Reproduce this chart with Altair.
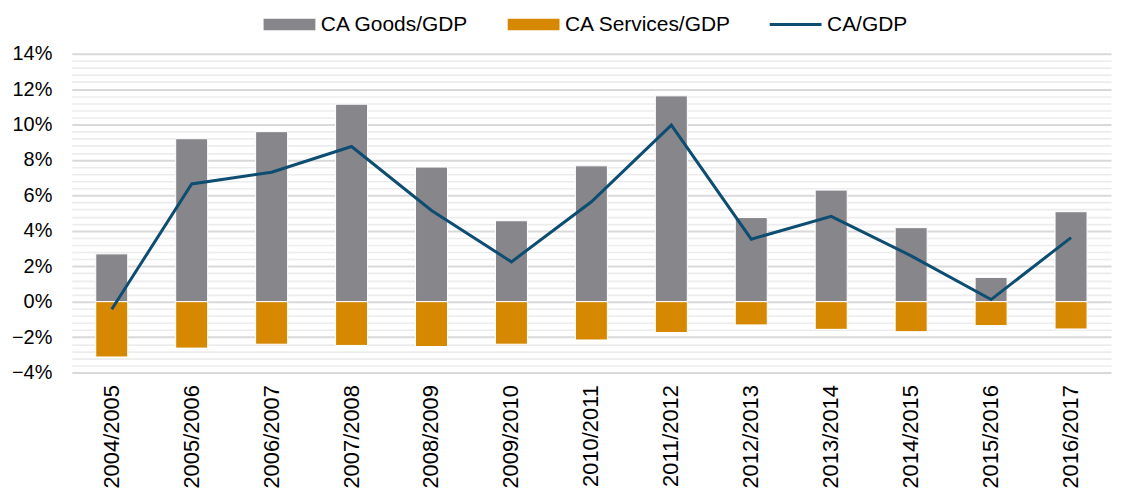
import altair as alt
import pandas as pd

categories = ["2004/2005", "2005/2006", "2006/2007", "2007/2008", "2008/2009",
              "2009/2010", "2010/2011", "2011/2012", "2012/2013", "2013/2014",
              "2014/2015", "2015/2016", "2016/2017"]
goods = [2.7, 9.2, 9.6, 11.15, 7.6, 4.57, 7.67, 11.62, 4.75, 6.3, 4.18, 1.37, 5.08]
services = [-3.12, -2.62, -2.4, -2.47, -2.53, -2.4, -2.16, -1.74, -1.31, -1.56, -1.69, -1.35, -1.54]
ca = [-0.43, 6.65, 7.31, 8.76, 5.15, 2.25, 5.64, 9.97, 3.53, 4.82, 2.59, 0.12, 3.62]

series_names = ["CA Goods/GDP", "CA Services/GDP", "CA/GDP"]
series_colors = ["#87868a", "#d58800", "#0d4d71"]
y_ticks = [round(-4 + 0.4 * i, 1) for i in range(46)]

bars = pd.DataFrame({
    "period": categories * 2,
    "series": [series_names[0]] * len(categories) + [series_names[1]] * len(categories),
    "value": goods + services,
})
line = pd.DataFrame({"period": categories, "series": series_names[2], "value": ca})

x_enc = alt.X("period:N", sort=categories, title=None,
              scale=alt.Scale(paddingInner=0.6, paddingOuter=0.3),
              axis=alt.Axis(labelAngle=270, labelFontSize=22, labelPadding=12,
                            labelColor="#000000", labelFont="Liberation Sans",
                            ticks=False, domain=False, grid=False))

y_scale = alt.Scale(domain=[-4, 14], nice=False, zero=False)
major_test = "abs(datum.value - round(datum.value / 2) * 2) < 0.01"

bar_layer = alt.Chart(bars).mark_bar(stroke="#ffffff", strokeWidth=1).encode(
    x=x_enc,
    y=alt.Y("value:Q", scale=y_scale, stack=None, title=None,
            axis=alt.Axis(values=y_ticks, tickCount=60, labelOverlap=False, ticks=False, domain=False,
                          labelFontSize=20, labelPadding=20, labelColor="#000000",
                          labelFont="Liberation Sans",
                          labelExpr=f"({major_test}) ? format(round(datum.value), 'd') + '%' : ''",
                          gridColor={"condition": {"test": major_test, "value": "#d9d9d9"},
                                     "value": "#ececec"},
                          gridWidth={"condition": {"test": major_test, "value": 2},
                                     "value": 1.6})),
    color=alt.Color("series:N",
                    scale=alt.Scale(domain=series_names, range=series_colors),
                    legend=alt.Legend(
                        title=None, orient="none", direction="horizontal",
                        legendX=187, legendY=-40,
                        labelFontSize=21, labelFont="Liberation Sans", labelColor="#000000",
                        labelLimit=400,
                        symbolSize=100, labelOffset=42, columnPadding=33,
                        symbolStrokeWidth=0,
                        symbolType={"expr": "datum.value === 'CA/GDP' ? 'M-1,-0.3H9.4V0.3H-1Z' : 'M-1,-1.15H9.4V1.15H-1Z'"},
                    )),
)

line_layer = alt.Chart(line).mark_line(color=series_colors[2], strokeWidth=3).encode(
    x=alt.X("period:N", sort=categories),
    y=alt.Y("value:Q", scale=y_scale),
)

chart = alt.layer(bar_layer, line_layer).properties(
    width=1043, height=320,
    padding={"left": 3, "top": 5, "right": 5, "bottom": 0},
).configure_view(stroke=None)

chart.save("out.html", embed_options={"renderer": "svg", "actions": False})
